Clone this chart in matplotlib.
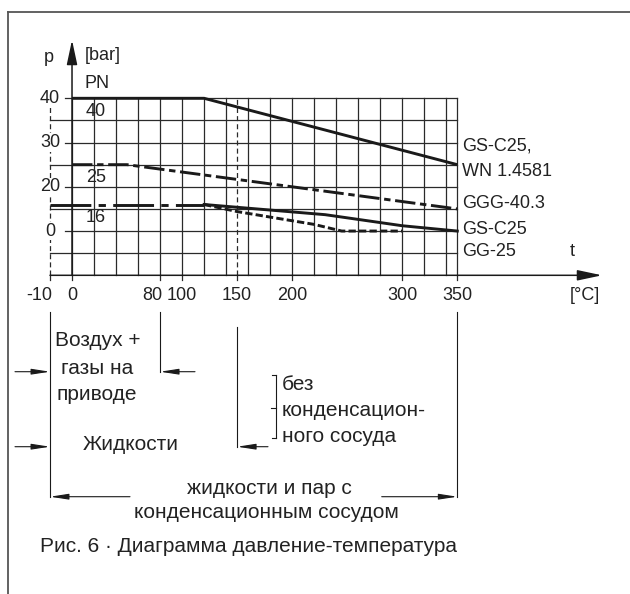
import numpy as np
import matplotlib
matplotlib.use('Agg')
import matplotlib.pyplot as plt
from matplotlib.transforms import blended_transform_factory, Affine2D
from matplotlib.lines import Line2D

plt.rcParams['font.family'] = ['Liberation Sans', 'DejaVu Sans']

# ---------------- data ----------------
t_grid = list(range(0, 341, 20)) + [350]
p_grid = [5, 10, 15, 20, 25, 30, 35, 40]
x_tick_vals = [-10, 0, 80, 100, 150, 200, 300, 350]
x_tick_labels = ['-10', '0', '80', '100', '150', '200', '300', '350']
y_tick_vals = [40, 30, 20, 10]
y_tick_labels = ['40', '30', '20', '0']
pn_vals = [40, 25, 16]
pn_labels = ['40', '25', '16']

t_gs40 = [0, 120, 350]
p_gs40 = [40, 40, 25]
t_ggg = [0, 50, 350]
p_ggg = [25, 25, 15]
t_pn16 = [-10, 120]
p_pn16 = [16, 16]
t_gsc25 = [120, 230, 300, 350]
p_gsc25 = [16, 13.7, 11.2, 10]
t_gg25 = [120, 150, 220, 245, 300]
p_gg25 = [16, 14.4, 11.5, 10, 10]

curve_labels = ['GS-C25,', 'WN 1.4581', 'GGG-40.3', 'GS-C25', 'GG-25']

# ---------------- figure ----------------
W, H = 630, 594
fig = plt.figure(figsize=(W / 100, H / 100), dpi=100)
ax = fig.add_axes([50 / W, (H - 275.3) / H, 407.3 / W, 177 / H])


def fwd(t):
    t = np.asarray(t, dtype=float)
    return np.where(t < 0, 2 * t, t)


def inv(u):
    u = np.asarray(u, dtype=float)
    return np.where(u < 0, u / 2, u)


ax.set_xscale('function', functions=(fwd, inv))
ax.set_xlim(-10, 350)
ax.set_ylim(0, 40)
ax.axis('off')

px = Affine2D().scale(1 / W, -1 / H).translate(0, 1) + fig.transFigure
tp = blended_transform_factory(ax.transData, px)   # x data, y pixel
xp = blended_transform_factory(px, ax.transData)   # x pixel, y data

GRID = '#2a2a2a'
INK = '#1a1a1a'
TXT = '#222222'
glw = 0.9

# frame
fig.add_artist(Line2D([8, W], [12, 12], transform=px, color='#555555', lw=1.3))
fig.add_artist(Line2D([8, 8], [12, H], transform=px, color='#555555', lw=1.3))

# grid
for t in t_grid:
    ax.plot([t, t], [0, 40], color=GRID, lw=glw, clip_on=False, zorder=1)
for t in [-10, 150]:
    ax.plot([t, t], [0, 40], color=GRID, lw=glw, ls=(0, (4, 2.5)), clip_on=False, zorder=1)
for p in p_grid:
    start = -3 if p in y_tick_vals else -10
    ax.plot([start, 350], [p, p], color=GRID, lw=glw, clip_on=False, zorder=1)

# ticks below axis
for t in x_tick_vals:
    ax.plot([t, t], [275.3, 280], color=GRID, lw=glw, transform=tp, clip_on=False)

# axes with arrows
ap_axis = dict(arrowstyle='-|>,head_length=15,head_width=3.2', mutation_scale=1,
               color=INK, lw=1.1, shrinkA=0, shrinkB=0)
ax.annotate('', xy=(602, 275.3), xycoords=px, xytext=(-10, 0), textcoords='data',
            arrowprops=ap_axis, annotation_clip=False)
ax.annotate('', xy=(0, 40), xycoords=tp, xytext=(0, 0), textcoords='data',
            arrowprops=ap_axis, annotation_clip=False)

# curves
clw = 2.1
ax.plot(t_gs40, p_gs40, color=INK, lw=clw, solid_capstyle='butt', clip_on=False, zorder=3)
ax.plot(t_ggg, p_ggg, color=INK, lw=clw, ls=(0, (7, 1.6, 2.2, 1.6)), clip_on=False, zorder=3)
ax.plot(t_pn16, p_pn16, color=INK, lw=clw, ls=(0, (14, 2.5, 2.5, 2.5)), clip_on=False, zorder=3)
ax.plot(t_gsc25, p_gsc25, color=INK, lw=clw, clip_on=False, zorder=3)
ax.plot(t_gg25, p_gg25, color=INK, lw=clw, ls=(0, (2.5, 1.1)), clip_on=False, zorder=3)

# tick labels
fs = 13
for v, s in zip(y_tick_vals, y_tick_labels):
    ax.text(-10, v, s, ha='center', va='center', fontsize=fs, color=TXT,
            bbox=dict(facecolor='white', edgecolor='none', pad=0.5), zorder=4)
x_label_shift = {-10: -8, 80: -5.5}
for v, s in zip(x_tick_vals, x_tick_labels):
    off = x_label_shift.get(v, 0)
    ax.annotate(s, xy=(v, 296), xycoords=tp, xytext=(off, 0), textcoords='offset points',
                ha='center', va='center', fontsize=fs, color=TXT, annotation_clip=False)

# axis labels
ax.text(49, 58, 'p', transform=px, ha='center', va='center', fontsize=fs, color=TXT)
ax.text(85, 56, '[bar]', transform=px, ha='left', va='center', fontsize=fs, color=TXT)
ax.text(85, 84, 'PN', transform=px, ha='left', va='center', fontsize=fs, color=TXT)
for v, s in zip(pn_vals, pn_labels):
    ax.text(86, v - 2.9, s, transform=xp, ha='left', va='center', fontsize=fs, color=TXT)
ax.text(585, 296, '[°C]', transform=px, ha='center', va='center', fontsize=fs, color=TXT)
ax.text(572, 251, 't', transform=px, ha='center', va='center', fontsize=fs, color=TXT)

for s, y in zip(curve_labels, [146, 171, 204, 229, 251]):
    ax.text(462, y, s, transform=px, ha='left', va='center', fontsize=fs, color=TXT)

# ---------------- lower annotation ----------------
LLW = 0.8
def vline(t, y0, y1):
    ax.plot([t, t], [y0, y1], color=INK, lw=LLW, transform=tp, clip_on=False)

vline(-10, 311.7, 497)
vline(80, 311.7, 372)
vline(150, 326.7, 447)
vline(350, 311.7, 497)

ap_small = dict(arrowstyle='-|>,head_length=11,head_width=1.7', mutation_scale=1,
                color=INK, lw=LLW, shrinkA=0, shrinkB=0)

def arrow(t_tip, x_tail, y):
    ax.annotate('', xy=(t_tip, y), xycoords=tp, xytext=(x_tail, y), textcoords=px,
                arrowprops=ap_small, annotation_clip=False)

arrow(-10, 15, 371.7)
arrow(80, 195, 371.7)
arrow(-10, 15, 446.7)
arrow(150, 268, 446.7)
arrow(-10, 130, 496.7)
arrow(350, 381.7, 496.7)

# bracket
for xs, ys in [([276, 276], [375, 438]), ([272, 276], [375, 375]),
               ([272, 276], [438, 438]), ([271, 276], [408, 408])]:
    fig.add_artist(Line2D(xs, ys, transform=px, color=INK, lw=LLW))

fs2 = 15
def T(x, y, s, ha='left'):
    fig.text(x, y, s, transform=px, ha=ha, va='center', fontsize=fs2, color=TXT)

T(98, 341, 'Воздух +', 'center')
T(97, 369, 'газы на', 'center')
T(97, 395, 'приводе', 'center')
T(131, 445, 'Жидкости', 'center')
T(282, 385, 'без')
T(282, 411, 'конденсацион-')
T(282, 437, 'ного сосуда')
T(269, 488, 'жидкости и пар с', 'center')
T(266, 513, 'конденсационным сосудом', 'center')
T(40, 547, 'Рис. 6 · Диаграмма давление-температура')

fig.savefig('out.png', dpi=100)
